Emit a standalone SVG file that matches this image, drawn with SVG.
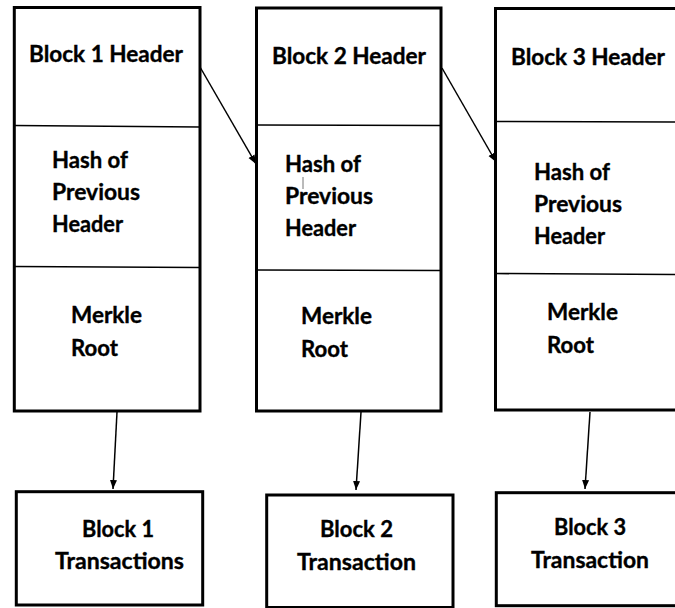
<svg xmlns="http://www.w3.org/2000/svg" width="675" height="608" viewBox="0 0 675 608">
<style>
.box{fill:#fff;stroke:#000;stroke-width:3}
.div{stroke:#000;stroke-width:1.6;fill:none}
.conn{stroke:#000;stroke-width:1.5;fill:none}
text{font-family:"Lato","Open Sans","Liberation Sans",sans-serif;font-weight:bold;font-size:22.5px;fill:#000;stroke:#000;stroke-width:0.35}
</style>
<defs>
<marker id="ah" markerUnits="userSpaceOnUse" markerWidth="10" markerHeight="10" viewBox="0 0 10 10" refX="9" refY="5" orient="auto">
<path d="M0,1.5 L9,5 L0,8.5 Z" fill="#000"/>
</marker>
</defs>
<rect width="675" height="608" fill="#fff"/>

<g id="block1">
<rect class="box" x="14.3" y="7.5" width="185.7" height="403.5"/>
<path class="div" d="M14.3,125.5 L200,127"/>
<path class="div" d="M14.3,266.5 L200,267.5"/>
<text x="29" y="62" textLength="154" lengthAdjust="spacingAndGlyphs">Block 1 Header</text>
<text x="52" y="168" textLength="76" lengthAdjust="spacingAndGlyphs">Hash of</text>
<text x="52" y="200" textLength="88" lengthAdjust="spacingAndGlyphs">Previous</text>
<text x="52" y="232" textLength="71" lengthAdjust="spacingAndGlyphs">Header</text>
<text x="71" y="323" textLength="71" lengthAdjust="spacingAndGlyphs">Merkle</text>
<text x="71" y="356" textLength="47" lengthAdjust="spacingAndGlyphs">Root</text>
</g>

<g id="block2">
<rect class="box" x="256.5" y="8" width="184.5" height="403"/>
<path class="div" d="M256.5,125 L441,125.5"/>
<path class="div" d="M256.5,270 L441,270.5"/>
<text x="272" y="64" textLength="154" lengthAdjust="spacingAndGlyphs">Block 2 Header</text>
<text x="285" y="172" textLength="76" lengthAdjust="spacingAndGlyphs">Hash of</text>
<text x="285" y="204" textLength="88" lengthAdjust="spacingAndGlyphs">Previous</text>
<text x="285" y="236" textLength="71" lengthAdjust="spacingAndGlyphs">Header</text>
<text x="301" y="324" textLength="71" lengthAdjust="spacingAndGlyphs">Merkle</text>
<text x="301" y="357" textLength="47" lengthAdjust="spacingAndGlyphs">Root</text>
<line x1="303" y1="177" x2="303" y2="189" stroke="#777" stroke-width="1"/>
</g>

<g id="block3">
<rect class="box" x="495.5" y="8.5" width="190" height="401.5"/>
<path class="div" d="M495.5,121.5 L675,122"/>
<path class="div" d="M495.5,273.5 L675,274.5"/>
<text x="511" y="65" textLength="154" lengthAdjust="spacingAndGlyphs">Block 3 Header</text>
<text x="534" y="180" textLength="76" lengthAdjust="spacingAndGlyphs">Hash of</text>
<text x="534" y="212" textLength="88" lengthAdjust="spacingAndGlyphs">Previous</text>
<text x="534" y="244" textLength="71" lengthAdjust="spacingAndGlyphs">Header</text>
<text x="547" y="320" textLength="71" lengthAdjust="spacingAndGlyphs">Merkle</text>
<text x="547" y="353" textLength="47" lengthAdjust="spacingAndGlyphs">Root</text>
</g>

<g id="tx1">
<rect class="box" x="16.3" y="491.7" width="186.4" height="113.3"/>
<text x="82" y="537" textLength="72" lengthAdjust="spacingAndGlyphs">Block 1</text>
<text x="55" y="569" textLength="129" lengthAdjust="spacingAndGlyphs">Transactions</text>
</g>

<g id="tx2">
<rect class="box" x="266.7" y="495" width="186.3" height="112.5"/>
<text x="320" y="537" textLength="73" lengthAdjust="spacingAndGlyphs">Block 2</text>
<text x="297" y="570" textLength="119" lengthAdjust="spacingAndGlyphs">Transaction</text>
</g>

<g id="tx3">
<rect class="box" x="496.3" y="492.7" width="190" height="113"/>
<text x="554" y="535" textLength="72" lengthAdjust="spacingAndGlyphs">Block 3</text>
<text x="531" y="568" textLength="118" lengthAdjust="spacingAndGlyphs">Transaction</text>
</g>

<g id="connectors">
<line class="conn" x1="200" y1="67" x2="256" y2="164" marker-end="url(#ah)"/>
<line class="conn" x1="442" y1="68" x2="496" y2="162" marker-end="url(#ah)"/>
<line class="conn" x1="117" y1="412" x2="113" y2="489" marker-end="url(#ah)"/>
<line class="conn" x1="361" y1="412" x2="356" y2="490" marker-end="url(#ah)"/>
<line class="conn" x1="590" y1="412" x2="585" y2="489" marker-end="url(#ah)"/>
</g>
</svg>
